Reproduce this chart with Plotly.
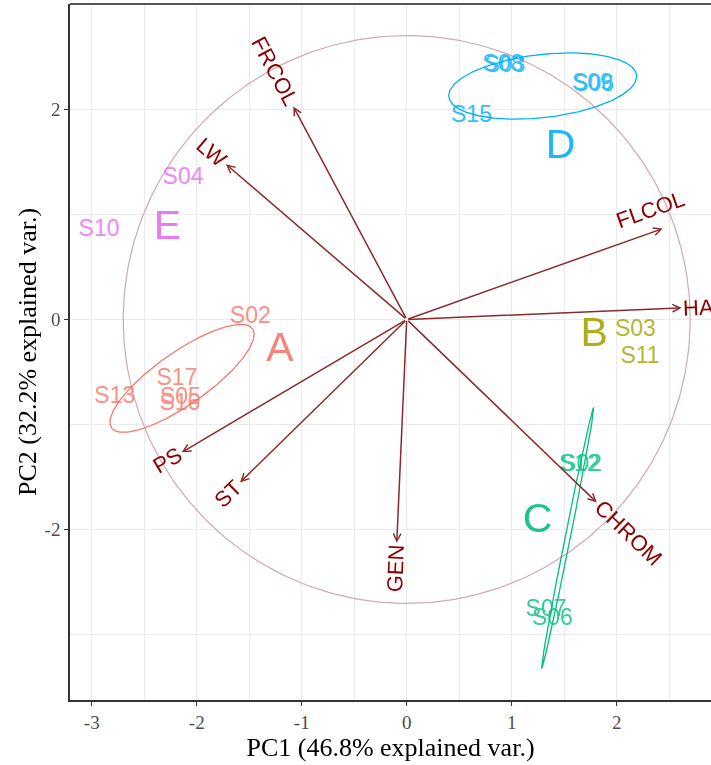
import numpy as np
import plotly.graph_objects as go

# ---- sample scores (PC1, PC2) with their group ----
sample_names = ["S02", "S17", "S05", "S16", "S13",
                "S03", "S11",
                "S12", "S02", "S07", "S06",
                "S08", "S03", "S09", "S06", "S15",
                "S04", "S10"]
sample_groups = ["A", "A", "A", "A", "A",
                 "B", "B",
                 "C", "C", "C", "C",
                 "D", "D", "D", "D", "D",
                 "E", "E"]
sample_pc1 = [-1.49, -2.188, -2.156, -2.16, -2.78,
              2.178, 2.222,
              1.645, 1.665, 1.327, 1.387,
              0.915, 0.935, 1.768, 1.780, 0.617,
              -2.13, -2.93]
sample_pc2 = [0.02, -0.567, -0.752, -0.81, -0.74,
              -0.10, -0.357,
              -1.39, -1.385, -2.767, -2.852,
              2.415, 2.405, 2.238, 2.232, 1.929,
              1.343, 0.848]

# ---- variable loadings (arrow tips) and label anchors ----
var_names = ["FRCOL", "LW", "FLCOL", "HA", "CHROM", "GEN", "ST", "PS"]
var_pc1 = [-1.08, -1.721, 2.438, 2.619, 1.81, -0.095, -1.588, -2.143]
var_pc2 = [2.026, 1.476, 0.864, 0.111, -1.74, -2.124, -1.55, -1.264]
var_lab_x = [-1.08, -1.721, 1.99, 2.619, 1.81, -0.095, -1.588, -2.143]
var_lab_y = [2.026, 1.476, 0.925, 0.111, -1.74, -2.124, -1.55, -1.264]

# ---- group ellipses (centre, semi-axes, rotation in degrees) ----
ell_groups = ["A", "C", "D"]
ell_cx = [-2.14, 1.533, 1.295]
ell_cy = [-0.56, -2.076, 2.22]
ell_a = [0.82, 1.263, 0.90]
ell_b = [0.25, 0.025, 0.30]
ell_angle = [35.0, 78.7, 6.5]

# ---- group letters ----
grp_names = ["A", "B", "C", "D", "E"]
grp_x = [-1.207, 1.786, 1.245, 1.465, -2.28]
grp_y = [-0.30, -0.157, -1.924, 1.629, 0.867]

# ---- axis ticks ----
x_ticks = [-3, -2, -1, 0, 1, 2]
x_tick_text = ["-3", "-2", "-1", "0", "1", "2"]
y_ticks = [-2, 0, 2]
y_tick_text = ["-2", "0", "2"]

circle_radius = 2.70

group_colors = {"A": "#F8766D", "B": "#A3A500", "C": "#00BF7D",
                "D": "#00B0F6", "E": "#E76BF3"}
var_color = "#8B0000"
arrow_color = "#8B2A2A"

SANS = "Liberation Sans, Arial, sans-serif"
SERIF = "Liberation Serif, Times New Roman, serif"

fig = go.Figure()

# correlation circle
t = np.linspace(0, 2 * np.pi, 361)
fig.add_trace(go.Scatter(x=circle_radius * np.cos(t), y=circle_radius * np.sin(t),
                         mode="lines", line=dict(color="#CFA9B4", width=1.2),
                         hoverinfo="skip", showlegend=False))

# group ellipses
for g, cx, cy, a, b, ang in zip(ell_groups, ell_cx, ell_cy, ell_a, ell_b, ell_angle):
    th = np.radians(ang)
    ex = cx + a * np.cos(t) * np.cos(th) - b * np.sin(t) * np.sin(th)
    ey = cy + a * np.cos(t) * np.sin(th) + b * np.sin(t) * np.cos(th)
    fig.add_trace(go.Scatter(x=ex, y=ey, mode="lines",
                             line=dict(color=group_colors[g], width=1.3),
                             hoverinfo="skip", showlegend=False))

# sample labels
for g in grp_names:
    idx = [i for i, s in enumerate(sample_groups) if s == g]
    fig.add_trace(go.Scatter(
        x=[sample_pc1[i] for i in idx], y=[sample_pc2[i] for i in idx],
        text=[sample_names[i] for i in idx], mode="text",
        textposition="middle center",
        textfont=dict(family=SANS, size=23, color=group_colors[g]),
        opacity=0.8, hoverinfo="skip", showlegend=False))

# group letters
fig.add_trace(go.Scatter(
    x=grp_x, y=grp_y, text=grp_names, mode="text", textposition="middle center",
    textfont=dict(family=SANS, size=41, color=[group_colors[g] for g in grp_names]),
    opacity=0.9, hoverinfo="skip", showlegend=False))

annotations = []
# loading arrows from the origin
for x, y in zip(var_pc1, var_pc2):
    annotations.append(dict(x=x, y=y, ax=0, ay=0, xref="x", yref="y",
                            axref="x", ayref="y", text="", showarrow=True,
                            arrowhead=5, arrowsize=1.0, arrowwidth=1.5,
                            arrowcolor=arrow_color))

# variable labels, rotated along the arrow and justified away from the origin
char_w = {"F": .611, "R": .722, "C": .722, "O": .778, "L": .556, "W": .944,
          "H": .722, "A": .667, "M": .833, "G": .778, "E": .667, "N": .722,
          "S": .667, "T": .611, "P": .667}
vfs = 22
for name, x, y, lx, ly in zip(var_names, var_pc1, var_pc2, var_lab_x, var_lab_y):
    ang = np.degrees(np.arctan(y / x))
    hj = 0.0 if x > 0 else 1.0
    w = sum(char_w[c] for c in name) * vfs
    shift = (0.5 - hj) * w + (2 if hj == 0 else -2)
    annotations.append(dict(x=lx, y=ly, xref="x", yref="y", text=name,
                            showarrow=False, textangle=-ang,
                            xanchor="center", yanchor="middle",
                            xshift=shift * np.cos(np.radians(ang)),
                            yshift=shift * np.sin(np.radians(ang)),
                            font=dict(family=SANS, size=vfs, color=var_color)))

fig.update_layout(
    width=711, height=765,
    margin=dict(l=70, r=0, t=4, b=65),
    plot_bgcolor="white", paper_bgcolor="white",
    showlegend=False,
    annotations=annotations,
    shapes=[dict(type="line", xref="paper", yref="paper", x0=0, x1=1, y0=1, y1=1,
                 line=dict(color="#555555", width=1.8))],
)

axis_common = dict(
    showgrid=True, gridcolor="#EBEBEB", gridwidth=1.2, zeroline=False,
    showline=True, linecolor="#333333", linewidth=1.6,
    ticks="outside", ticklen=4, tickcolor="#333333", tickwidth=1.2,
    tickfont=dict(family=SERIF, size=19, color="#4D4D4D"),
)

fig.update_xaxes(range=[-3.207, 2.898], tickmode="array",
                 tickvals=x_ticks, ticktext=x_tick_text,
                 minor=dict(dtick=0.5, tick0=0, showgrid=True,
                            gridcolor="#EBEBEB", gridwidth=1),
                 title=dict(text="PC1 (46.8% explained var.)",
                            font=dict(family=SERIF, size=26, color="black"),
                            standoff=2),
                 **axis_common)
fig.update_yaxes(range=[-3.619, 3.0], tickmode="array",
                 tickvals=y_ticks, ticktext=y_tick_text,
                 minor=dict(dtick=1, tick0=0, showgrid=True,
                            gridcolor="#EBEBEB", gridwidth=1),
                 title=dict(text="PC2 (32.2% explained var.)",
                            font=dict(family=SERIF, size=26, color="black"),
                            standoff=0),
                 **axis_common)

fig.write_html("out.html")
